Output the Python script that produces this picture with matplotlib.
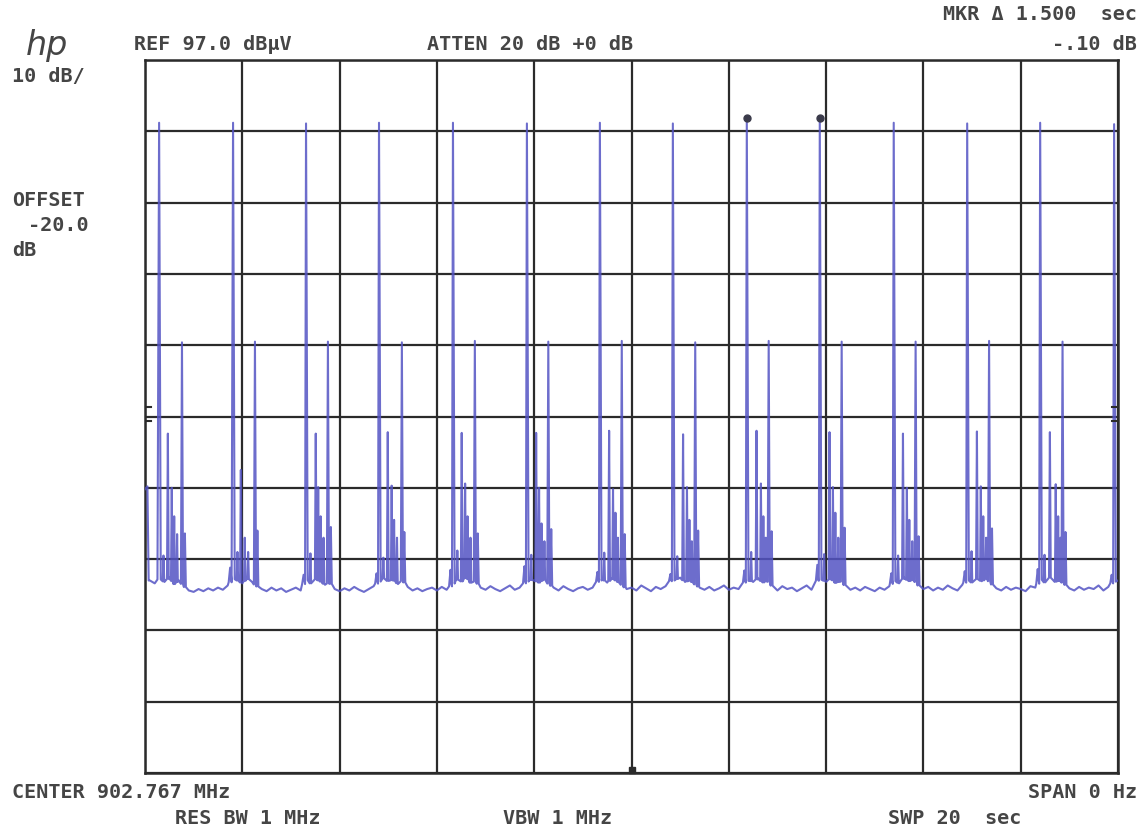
import matplotlib
matplotlib.use("Agg")

import matplotlib.pyplot as plt
import numpy             as np

# analyzer setup: zero span, 20 s sweep, REF 97 dBuV, 10 dB/div
SWEEP_S    = 20.0
REF_DB     = 97.0
DB_PER_DIV = 10.0

# main pulses (about 88 dBuV), one every 1.5 s
tall_t  = [0.29, 1.81, 3.31, 4.81, 6.33, 7.85, 9.35, 10.85, 12.37, 13.87, 15.39, 16.90, 18.40, 19.92]
tall_db = [88.2, 88.2, 88.1, 88.2, 88.2, 88.1, 88.2, 88.1, 88.4, 88.4, 88.2, 88.1, 88.2, 88.0]

# second reply in each group (about 57 dBuV)
second_t  = [0.76, 2.26, 3.76, 5.28, 6.78, 8.29, 9.80, 11.31, 12.82, 14.32, 15.84, 17.35, 18.86]
second_db = [57.4, 57.5, 57.5, 57.4, 57.6, 57.5, 57.6, 57.4, 57.6, 57.5, 57.5, 57.6, 57.5]

# third burst (about 44.7 dBuV)
third_t  = [0.47, 3.51, 4.99, 6.51, 8.04, 9.54, 11.06, 12.57, 14.07, 15.58, 17.10, 18.60]
third_db = [44.6, 44.6, 44.8, 44.7, 44.7, 45.0, 44.5, 45.0, 44.8, 44.6, 44.9, 44.8]

# fourth burst (about 37 dBuV)
fourth_t  = [0.55, 1.97, 3.56, 5.07, 6.58, 8.10, 9.62, 11.14, 12.66, 14.14, 15.66, 17.18, 18.72]
fourth_db = [37.0, 39.5, 37.1, 37.3, 37.6, 37.0, 36.8, 37.1, 37.6, 37.1, 37.0, 37.2, 37.5]

# shoulder right after the second reply
shoulder_t  = [0.82, 2.31, 3.82, 5.33, 6.84, 8.35, 9.86, 11.37, 12.88, 14.38, 15.90, 17.41, 18.92]
shoulder_db = [30.6, 31.0, 31.5, 30.8, 30.6, 31.2, 30.5, 31.0, 30.9, 31.4, 30.2, 31.3, 30.8]

# small bumps just before each main pulse
pre_t  = [1.75, 3.26, 4.76, 6.28, 7.80, 9.30, 10.80, 12.32, 13.82, 15.34, 16.85, 18.35, 19.87]
pre_db = [25.8, 24.8, 25.0, 25.5, 26.0, 25.2, 24.9, 25.4, 26.2, 25.0, 25.3, 25.6, 24.8]

# clutter inside the groups
clutter_t  = [0.38, 0.60, 0.66, 1.90, 2.05, 2.12, 3.40, 3.61, 3.67, 4.90, 5.12, 5.18,
              6.42, 6.63, 6.69, 7.94, 8.15, 8.21, 9.44, 9.67, 9.72, 10.94, 11.19, 11.24,
              12.46, 12.71, 12.76, 13.96, 14.19, 14.25, 15.48, 15.71, 15.77, 16.99, 17.23, 17.29,
              18.49, 18.77, 18.82]
clutter_db = [27.5, 33.0, 30.5, 28.0, 30.0, 28.0, 27.8, 33.0, 30.0, 27.2, 32.5, 30.0,
              28.2, 33.0, 30.0, 27.6, 32.0, 29.5, 27.9, 33.5, 30.0, 27.4, 32.5, 29.5,
              28.0, 33.0, 30.0, 27.7, 33.5, 30.0, 27.5, 32.5, 29.5, 28.1, 33.0, 30.0,
              27.6, 33.0, 30.0]

# partial burst at the left edge of the sweep
edge_t  = [0.00, 0.05, 0.075]
edge_db = [36.8, 37.2, 24.0]

# noise floor, one reading every 0.1 s
floor_db = [
    24.5, 24.0, 23.6, 24.2, 23.8, 24.4, 23.5, 24.0, 23.2, 22.6,
    22.4, 22.8, 22.5, 22.9, 22.6, 23.0, 22.7, 23.3, 24.2, 24.0,
    23.6, 24.3, 23.8, 23.2, 22.8, 22.5, 23.0, 22.6, 22.9, 22.4,
    22.7, 23.0, 22.6, 24.1, 23.6, 24.2, 23.9, 23.4, 23.7, 22.8,
    22.5, 22.9, 22.6, 23.1, 22.7, 22.4, 22.8, 23.2, 23.8, 24.3,
    23.9, 24.1, 23.5, 24.0, 23.1, 22.6, 22.9, 22.5, 22.8, 23.0,
    22.6, 23.1, 22.7, 23.3, 24.2, 23.8, 24.5, 23.6, 23.9, 23.0,
    22.7, 23.2, 22.8, 22.5, 22.9, 23.3, 22.7, 23.0, 23.6, 24.1,
    24.0, 23.7, 24.2, 23.5, 23.0, 22.6, 23.2, 22.8, 22.5, 22.9,
    23.1, 22.7, 23.0, 23.8, 24.2, 23.7, 24.3, 23.9, 23.4, 22.8,
    23.0, 22.6, 23.3, 22.9, 22.5, 23.1, 22.8, 23.2, 23.9, 24.1,
    24.4, 23.8, 24.0, 23.5, 23.0, 22.7, 23.1, 22.6, 22.9, 23.3,
    22.7, 23.0, 22.8, 23.6, 24.1, 23.8, 24.3, 23.7, 24.0, 23.1,
    22.6, 23.2, 22.8, 23.0, 22.5, 22.9, 23.3, 22.7, 23.9, 24.2,
    23.8, 24.3, 23.6, 24.0, 23.2, 22.7, 23.0, 22.6, 23.1, 22.8,
    22.5, 23.0, 22.7, 23.2, 24.0, 23.6, 24.4, 23.9, 24.1, 23.3,
    22.8, 23.1, 22.6, 23.0, 22.7, 23.3, 22.9, 22.6, 23.4, 24.0,
    23.7, 24.2, 23.9, 24.3, 23.5, 22.9, 22.6, 23.1, 22.7, 23.0,
    22.8, 22.5, 23.2, 23.0, 24.1, 23.7, 24.4, 23.8, 24.0, 23.5,
    22.9, 22.6, 23.1, 22.7, 23.0, 22.8, 23.3, 22.6, 23.1, 23.8,
    24.0]
floor_t = np.linspace(0.0, SWEEP_S, len(floor_db))

# display line ticks at both edges, and the two markers (MKR delta)
display_db = [48.3, 46.4]
marker_idx = [8, 9]

TRACE = "#5454c4"
INK   = "#2b2b2b"
TEXT  = "#454545"
W, H  = 1146, 831


def build_trace():
    groups = [ (tall_t,     tall_db,     0.034)
             , (second_t,   second_db,   0.022)
             , (third_t,    third_db,    0.018)
             , (fourth_t,   fourth_db,   0.016)
             , (shoulder_t, shoulder_db, 0.020)
             , (pre_t,      pre_db,      0.030)
             , (clutter_t,  clutter_db,  0.015)
             ]
    pts   = []
    spans = []
    for ts, lv, hw in groups:
        for t, l in zip(ts, lv):
            base = np.interp(t, floor_t, floor_db)
            pts += [(t - hw, base), (t, l), (min(t + hw, SWEEP_S), base)]
            spans.append((t - hw, t + hw))
    for t, l in zip(floor_t, floor_db):
        if t < edge_t[-1]:
            continue
        if any(a <= t <= b for a, b in spans):
            continue
        pts.append((t, l))
    pts += list(zip(edge_t, edge_db))
    pts.sort(key=lambda p: p[0])
    return np.array([p[0] for p in pts]), np.array([p[1] for p in pts])


fig = plt.figure(figsize=(W / 100, H / 100), dpi=100)
ax  = fig.add_axes([145 / W, 1 - 773 / H, (1118 - 145) / W, (773 - 60) / H])

xs, ys = build_trace()
ax.plot(xs, ys, color=TRACE, lw=1.5, alpha=0.85, zorder=3)

# markers on two consecutive main pulses
ax.plot([tall_t[i] for i in marker_idx], [tall_db[i] + 0.5 for i in marker_idx],
        "o", ms=5, color="#3a3a4a", zorder=4)

for d in display_db:
    ax.axhline(d, xmin=0.0,   xmax=0.006, color=INK, lw=1.5, zorder=4)
    ax.axhline(d, xmin=0.994, xmax=1.0,   color=INK, lw=1.5, zorder=4)

ax.plot([SWEEP_S / 2], [REF_DB - 10 * DB_PER_DIV + 0.4], "s", ms=4,
        color=INK, clip_on=False, zorder=5)

ax.set_xlim(0, SWEEP_S)
ax.set_ylim(REF_DB - 10 * DB_PER_DIV, REF_DB)
ax.set_xticks(np.linspace(0, SWEEP_S, 11))
ax.set_yticks(np.arange(REF_DB - 10 * DB_PER_DIV, REF_DB + 0.1, DB_PER_DIV))
ax.grid(True, color=INK, lw=1.6)
ax.set_axisbelow(True)
ax.tick_params(length=0, labelbottom=False, labelleft=False)
for s in ax.spines.values():
    s.set_color(INK)
    s.set_linewidth(1.8)

font = {"family": "DejaVu Sans Mono", "fontsize": 14.5, "fontweight": "bold",
        "color": TEXT, "va": "center"}

def put(px, py, s, ha="left", **kw):
    opts = dict(font)
    opts.update(kw)
    fig.text(px / W, 1 - py / H, s, ha=ha, **opts)

put(47, 46, "hp", ha="center", family="DejaVu Sans", fontstyle="italic",
    fontweight="normal", fontsize=24)
put(213, 44, "REF 97.0 dB\u00b5V", ha="center")
put(530, 44, "ATTEN 20 dB +0 dB", ha="center")
put(1137, 14, "MKR \u0394 1.500  sec", ha="right")
put(1137, 44, "-.10 dB", ha="right")
put(12, 76, "10 dB/")
put(12, 200, "OFFSET")
put(28, 225, "-20.0")
put(12, 250, "dB")
put(12, 793, "CENTER 902.767 MHz")
put(1137, 793, "SPAN 0 Hz", ha="right")
put(248, 818, "RES BW 1 MHz", ha="center")
put(558, 818, "VBW 1 MHz", ha="center")
put(955, 818, "SWP 20  sec", ha="center")

fig.savefig("out.png", dpi=100, facecolor="white")
